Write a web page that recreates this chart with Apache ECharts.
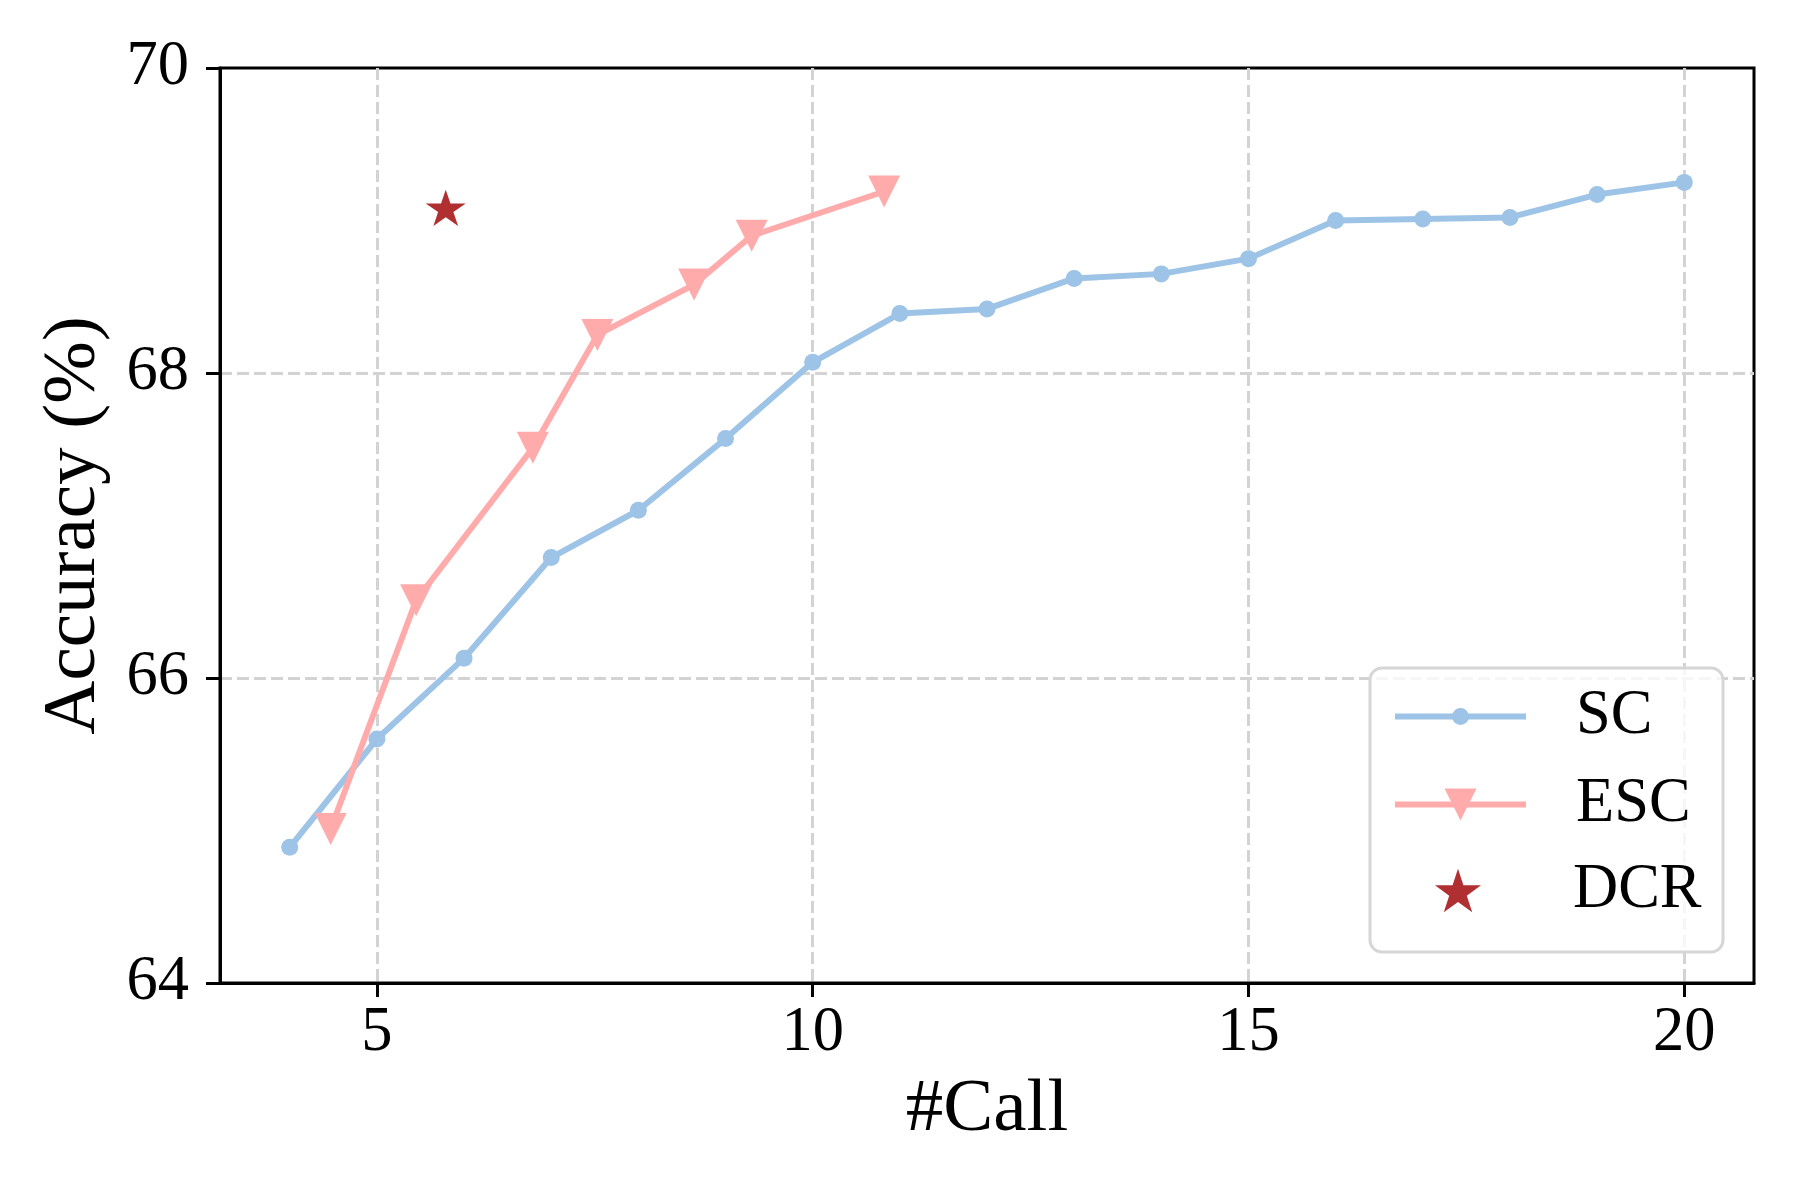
<!DOCTYPE html>
<html>
<head>
<meta charset="utf-8">
<script src="https://cdn.jsdelivr.net/npm/echarts@6/dist/echarts.min.js"></script>
<style>
html,body{margin:0;padding:0;background:#fff;}
#chart{width:1800px;height:1200px;}
</style>
</head>
<body>
<div id="chart"></div>
<script>
// ---- data ----
const scX = [4, 5, 6, 7, 8, 9, 10, 11, 12, 13, 14, 15, 16, 17, 18, 19, 20];
const scY = [64.89, 65.60, 66.13, 66.79, 67.10, 67.57, 68.07, 68.39, 68.42, 68.62, 68.65, 68.75, 69.00, 69.01, 69.02, 69.17, 69.25];
const escX = [4.47, 5.45, 6.79, 7.53, 8.64, 9.30, 10.82];
const escY = [65.01, 66.51, 67.51, 68.25, 68.58, 68.90, 69.19];
const dcrX = [5.79];
const dcrY = [69.07];
const xTicks = [5, 10, 15, 20];
const yTicks = [64, 66, 68, 70];
const seriesNames = ['SC', 'ESC', 'DCR'];

const FONT = '"Liberation Serif", "Times New Roman", serif';
const STAR = 'path://M100 0 L122.45 69.1 L195.11 69.1 L136.33 111.8 L158.78 180.9 L100 138.2 L41.22 180.9 L63.67 111.8 L4.89 69.1 L77.55 69.1 Z';
const C_SC = '#9DC3E6', C_ESC = '#FFABAB', C_DCR = '#B02F30';

const zip = (xs, ys) => xs.map((x, i) => [x, ys[i]]);

const chart = echarts.init(document.getElementById('chart'), null, {renderer: 'canvas'});

const legendBase = {
  orient: 'vertical',
  left: 1392,
  padding: 0,
  itemWidth: 131,
  lineStyle: {width: 6},
  textStyle: {fontFamily: FONT, fontSize: 62.5, color: '#000', padding: [0, 0, 0, 45]},
  inactiveColor: '#ccc',
  selectedMode: false
};

chart.setOption({
  animation: false,
  backgroundColor: '#fff',
  grid: {
    left: 220, right: 46, top: 68, bottom: 217,
    show: true, borderColor: '#000', borderWidth: 3, backgroundColor: 'transparent'
  },
  xAxis: {
    type: 'value',
    min: 3.2, max: 20.8,
    name: '#Call',
    nameLocation: 'middle',
    nameGap: 90,
    nameTextStyle: {fontFamily: FONT, fontSize: 75, color: '#000'},
    axisLine: {show: true, onZero: false, lineStyle: {color: '#000', width: 3}},
    axisTick: {show: true, inside: false, length: 14, lineStyle: {color: '#000', width: 3}, customValues: xTicks},
    axisLabel: {fontFamily: FONT, fontSize: 62.5, color: '#000', margin: 19, customValues: xTicks},
    splitLine: {show: true, showMinLine: true, showMaxLine: true, lineStyle: {color: '#d3d3d3', width: 3, type: [12, 5]}}
  },
  yAxis: {
    type: 'value',
    min: yTicks[0], max: yTicks[yTicks.length - 1], interval: 2,
    name: 'Accuracy (%)',
    nameLocation: 'middle',
    nameGap: 108,
    nameTextStyle: {fontFamily: FONT, fontSize: 75, color: '#000'},
    axisLine: {show: true, onZero: false, lineStyle: {color: '#000', width: 3}},
    axisTick: {show: true, inside: false, length: 14, lineStyle: {color: '#000', width: 3}},
    axisLabel: {fontFamily: FONT, fontSize: 62.5, color: '#000', margin: 31},
    splitLine: {show: true, showMinLine: false, showMaxLine: false, lineStyle: {color: '#d3d3d3', width: 3, type: [12, 5]}}
  },
  graphic: [{
    type: 'rect',
    z: 3,
    shape: {x: 1370, y: 668, width: 353, height: 284, r: 12},
    style: {fill: 'rgba(255,255,255,0.8)', stroke: '#d6d6d6', lineWidth: 3}
  }],
  legend: [
    Object.assign({}, legendBase, {data: [seriesNames[0]], top: 685, itemHeight: 21}),
    Object.assign({}, legendBase, {data: [seriesNames[1]], top: 773, itemHeight: 40}),
    Object.assign({}, legendBase, {data: [seriesNames[2]], top: 859, left: 1435, itemWidth: 46, itemHeight: 44,
      textStyle: Object.assign({}, legendBase.textStyle, {padding: [0, 0, 0, 87]})})
  ],
  series: [
    {
      name: seriesNames[0],
      type: 'line',
      data: zip(scX, scY),
      symbol: 'circle',
      symbolSize: 17,
      lineStyle: {color: C_SC, width: 6},
      itemStyle: {color: C_SC, opacity: 1},
      z: 2
    },
    {
      name: seriesNames[1],
      type: 'line',
      data: zip(escX, escY),
      symbol: 'triangle',
      symbolRotate: 180,
      symbolSize: 32,
      lineStyle: {color: C_ESC, width: 6},
      itemStyle: {color: C_ESC, opacity: 1},
      z: 3
    },
    {
      name: seriesNames[2],
      type: 'scatter',
      data: zip(dcrX, dcrY),
      symbol: STAR,
      symbolKeepAspect: true,
      symbolSize: [40, 38],
      symbolOffset: [0, -2],
      itemStyle: {color: C_DCR, opacity: 1},
      z: 4
    }
  ]
});
</script>
</body>
</html>
